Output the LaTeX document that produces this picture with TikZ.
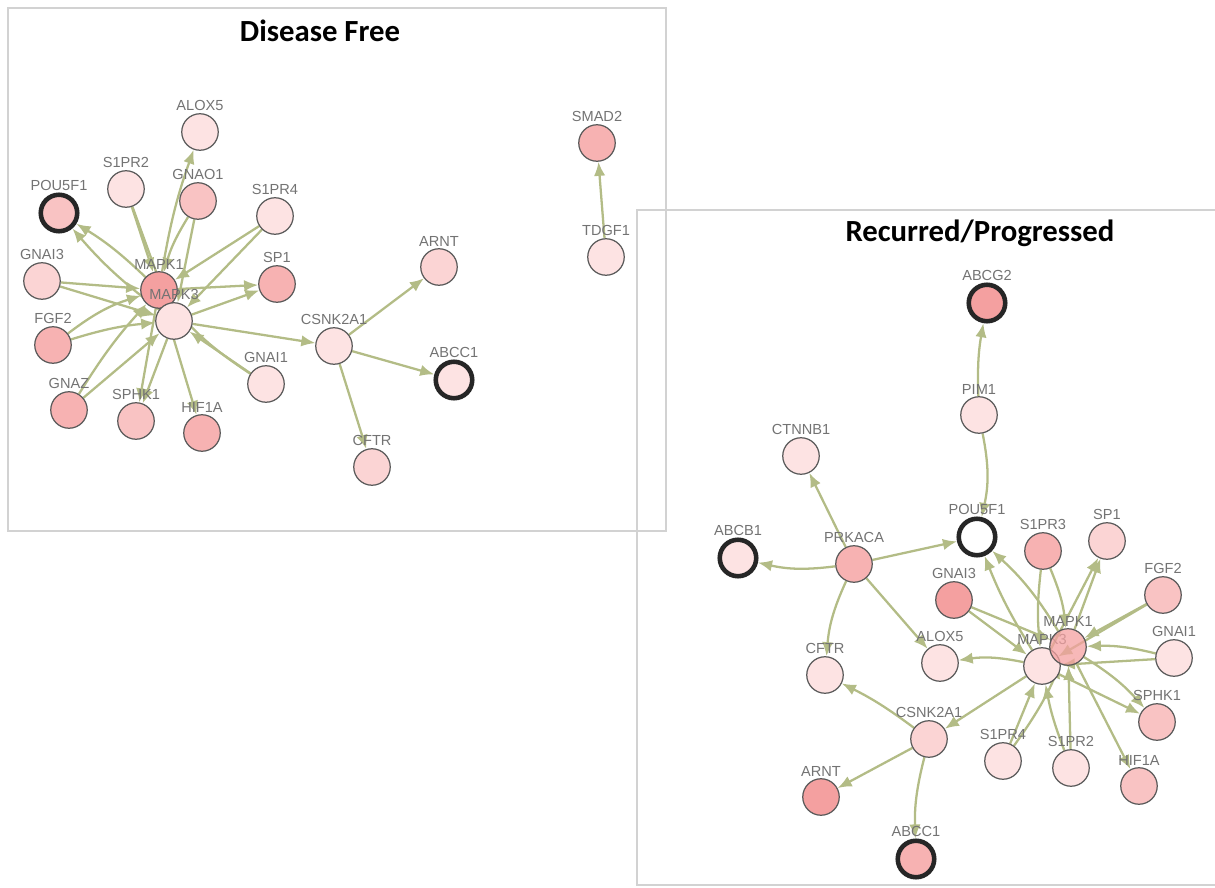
\documentclass[tikz,border=0pt]{standalone}
\usepackage{fontspec}
\setmainfont{Liberation Sans}
\newfontfamily\titlefont{Carlito}
\usetikzlibrary{arrows.meta,backgrounds}

\definecolor{pk1}{HTML}{FDE3E3}
\definecolor{pk2}{HTML}{FBD4D4}
\definecolor{pk3}{HTML}{F9C3C3}
\definecolor{pk4}{HTML}{F7B2B2}
\definecolor{pk5}{HTML}{F4A0A0}
\definecolor{olive}{HTML}{B3BC86}
\definecolor{panelgray}{HTML}{D2D2D2}

\begin{document}
\begin{tikzpicture}[
    x=0.02cm, y=-0.02cm,
    gene/.style={circle, draw=black!65, line width=0.7pt, minimum size=0.73cm, inner sep=0pt},
    marker/.style={draw=black!85, line width=2.6pt},
    every label/.style={font=\fontsize{8.3}{9}\selectfont, text=black!55, inner sep=1pt},
    label distance=0pt,
    link/.style={-{Latex[length=8pt,width=6.5pt]}, olive, line width=1.3pt},
    panel/.style={draw=panelgray, line width=1.7pt},
    heading/.style={font=\titlefont\bfseries\fontsize{17.5}{20}\selectfont}
]
\useasboundingbox (0,0) rectangle (1215,888);

% Panel titles
\node[heading] (tFree) at (320,31) {Disease Free};
\node[heading] (tRec) at (980,233) {Recurred/Progressed};

% Disease free network
\node[gene, fill=pk1, label=above:ALOX5] (lALOX5) at (200,132) {};
\node[gene, fill=pk1, label=above:S1PR2] (lS1PR2) at (126,189) {};
\node[gene, fill=pk3, label=above:GNAO1] (lGNAO1) at (198,201) {};
\node[gene, fill=pk1, label=above:S1PR4] (lS1PR4) at (275,216) {};
\node[gene, marker, fill=pk3, label=above:POU5F1] (lPOU5F1) at (59,213) {};
\node[gene, fill=pk2, label=above:GNAI3] (lGNAI3) at (42,281) {};
\node[gene, fill=pk4, label=above:SP1] (lSP1) at (277,284) {};
\node[gene, fill=pk4, label=above:FGF2] (lFGF2) at (53,345) {};
\node[gene, fill=pk1, label=above:GNAI1] (lGNAI1) at (266,384) {};
\node[gene, fill=pk4, label=above:GNAZ] (lGNAZ) at (69,410) {};
\node[gene, fill=pk3, label=above:SPHK1] (lSPHK1) at (136,421) {};
\node[gene, fill=pk4, label=above:HIF1A] (lHIF1A) at (202,433) {};
\node[gene, fill=pk5, label=above:MAPK1] (lMAPK1) at (159,290) {};
\node[gene, fill=pk1, label=above:MAPK3] (lMAPK3) at (174,321) {};
\node[gene, fill=pk1, label=above:CSNK2A1] (lCSNK2A1) at (334,346) {};
\node[gene, fill=pk2, label=above:ARNT] (lARNT) at (439,267) {};
\node[gene, marker, fill=pk1, label=above:ABCC1] (lABCC1) at (454,380) {};
\node[gene, fill=pk2, label=above:CFTR] (lCFTR) at (372,467) {};
\node[gene, fill=pk4, label=above:SMAD2] (lSMAD2) at (597,143) {};
\node[gene, fill=pk1, label=above:TDGF1] (lTDGF1) at (606,257) {};

% Recurred/progressed network
\node[gene, marker, fill=pk5, label=above:ABCG2] (rABCG2) at (987,303) {};
\node[gene, fill=pk1, label=above:PIM1] (rPIM1) at (979,415) {};
\node[gene, fill=pk1, label=above:CTNNB1] (rCTNNB1) at (801,456) {};
\node[gene, marker, fill=white, label=above:POU5F1] (rPOU5F1) at (977,537) {};
\node[gene, marker, fill=pk1, label=above:ABCB1] (rABCB1) at (738,558) {};
\node[gene, fill=pk4, label=above:PRKACA] (rPRKACA) at (854,564) {};
\node[gene, fill=pk5, label=above:GNAI3] (rGNAI3) at (954,600) {};
\node[gene, fill=pk4, label=above:S1PR3] (rS1PR3) at (1043,551) {};
\node[gene, fill=pk2, label=above:SP1] (rSP1) at (1107,541) {};
\node[gene, fill=pk3, label=above:FGF2] (rFGF2) at (1163,595) {};
\node[gene, fill=pk1, label=above:GNAI1] (rGNAI1) at (1174,658) {};
\node[gene, fill=pk1, label=above:ALOX5] (rALOX5) at (940,663) {};
\node[gene, fill=pk1, label=above:CFTR] (rCFTR) at (825,675) {};
\node[gene, fill=pk3, label=above:SPHK1] (rSPHK1) at (1157,722) {};
\node[gene, fill=pk2, label=above:CSNK2A1] (rCSNK2A1) at (929,739) {};
\node[gene, fill=pk1, label=above:S1PR4] (rS1PR4) at (1003,761) {};
\node[gene, fill=pk1, label=above:S1PR2] (rS1PR2) at (1071,768) {};
\node[gene, fill=pk3, label=above:HIF1A] (rHIF1A) at (1139,786) {};
\node[gene, fill=pk5, label=above:ARNT] (rARNT) at (821,797) {};
\node[gene, marker, fill=pk4, label=above:ABCC1] (rABCC1) at (916,859) {};
\node[gene, fill=pk1, label=above:MAPK3] (rMAPK3) at (1042,666) {};
\node[gene, fill=pk5, fill opacity=0.75, text opacity=1, label=above:MAPK1] (rMAPK1) at (1068,647) {};

\begin{scope}[on background layer]
% Panels
\draw[panel] (8,8) rectangle (666,531);
\draw[panel] (637,210) rectangle (1225,885);

% Edges, disease free
\draw[link] (lMAPK1) to[bend left=5] (lALOX5);
\draw[link] (lS1PR2) -- (lMAPK1);
\draw[link] (lS1PR2) -- (lMAPK3);
\draw[link] (lGNAO1) to[bend right=8] (lMAPK1);
\draw[link] (lGNAO1) -- (lMAPK3);
\draw[link] (lMAPK1) to[bend right=6] (lPOU5F1);
\draw[link] (lMAPK3) to[bend left=6] (lPOU5F1);
\draw[link] (lS1PR4) -- (lMAPK1);
\draw[link] (lS1PR4) -- (lMAPK3);
\draw[link] (lGNAI3) -- (lMAPK1);
\draw[link] (lGNAI3) -- (lMAPK3);
\draw[link] (lMAPK1) -- (lSP1);
\draw[link] (lMAPK3) -- (lSP1);
\draw[link] (lFGF2) to[bend left=10] (lMAPK1);
\draw[link] (lFGF2) to[bend left=6] (lMAPK3);
\draw[link] (lGNAZ) to[bend left=5] (lMAPK1);
\draw[link] (lGNAZ) -- (lMAPK3);
\draw[link] (lMAPK1) -- (lSPHK1);
\draw[link] (lMAPK3) -- (lSPHK1);
\draw[link] (lMAPK1) -- (lHIF1A);
\draw[link] (lGNAI1) -- (lMAPK3);
\draw[link] (lGNAI1) to[bend left=8] (lMAPK1);
\draw[link] (lMAPK3) -- (lCSNK2A1);
\draw[link] (lCSNK2A1) -- (lARNT);
\draw[link] (lCSNK2A1) -- (lABCC1);
\draw[link] (lCSNK2A1) -- (lCFTR);
\draw[link] (lTDGF1) -- (lSMAD2);

% Edges, recurred/progressed
\draw[link] (rPIM1) to[bend left=6] (rABCG2);
\draw[link] (rPIM1) to[bend left=12] (rPOU5F1);
\draw[link] (rPRKACA) -- (rCTNNB1);
\draw[link] (rPRKACA) to[bend left=10] (rABCB1);
\draw[link] (rPRKACA) -- (rPOU5F1);
\draw[link] (rPRKACA) -- (rALOX5);
\draw[link] (rPRKACA) to[bend right=10] (rCFTR);
\draw[link] (rGNAI3) -- (rMAPK3);
\draw[link] (rGNAI3) -- (rMAPK1);
\draw[link] (rMAPK3) to[bend left=5] (rPOU5F1);
\draw[link] (rMAPK1) to[bend right=8] (rPOU5F1);
\draw[link] (rMAPK3) to[bend right=10] (rALOX5);
\draw[link] (rS1PR3) to[bend right=6] (rMAPK3);
\draw[link] (rS1PR3) to[bend left=8] (rMAPK1);
\draw[link] (rMAPK3) -- (rSP1);
\draw[link] (rMAPK1) -- (rSP1);
\draw[link] (rFGF2) -- (rMAPK1);
\draw[link] (rFGF2) -- (rMAPK3);
\draw[link] (rGNAI1) to[bend right=8] (rMAPK1);
\draw[link] (rGNAI1) -- (rMAPK3);
\draw[link] (rMAPK1) to[bend left=8] (rSPHK1);
\draw[link] (rMAPK3) -- (rSPHK1);
\draw[link] (rMAPK1) -- (rHIF1A);
\draw[link] (rS1PR2) -- (rMAPK1);
\draw[link] (rS1PR2) to[bend left=5] (rMAPK3);
\draw[link] (rS1PR4) -- (rMAPK3);
\draw[link] (rS1PR4) to[bend right=6] (rMAPK1);
\draw[link] (rMAPK3) -- (rCSNK2A1);
\draw[link] (rCSNK2A1) to[bend right=5] (rCFTR);
\draw[link] (rCSNK2A1) -- (rARNT);
\draw[link] (rCSNK2A1) to[bend right=8] (rABCC1);
\end{scope}

\end{tikzpicture}
\end{document}
